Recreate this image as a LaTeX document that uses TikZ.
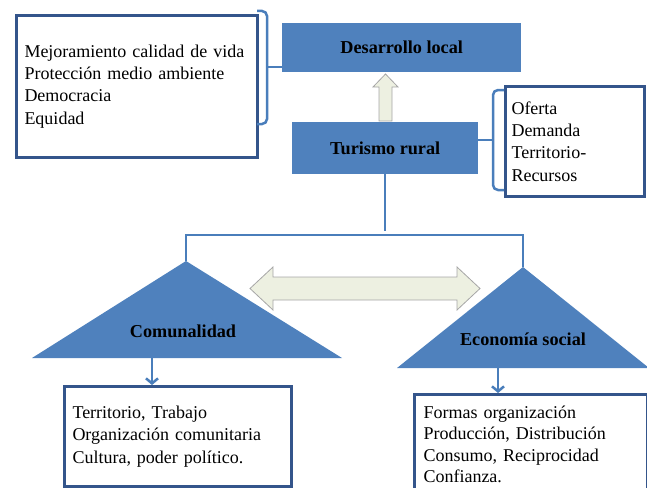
\documentclass[tikz,border=0pt]{standalone}
\usepackage{fontspec}
\setmainfont{Liberation Serif}
\usetikzlibrary{arrows.meta}

\definecolor{boxblue}{HTML}{4F81BD}
\definecolor{boxedge}{HTML}{34558B}
\definecolor{linkblue}{HTML}{4A7EBB}
\definecolor{arrowfill}{HTML}{EDF0E1}
\definecolor{arrowedge}{HTML}{A6A6A6}

\begin{document}
\begin{tikzpicture}[x=1pt, y=-1pt,
  every node/.style = {font=\fontsize{18}{22.3}\selectfont},
  lista/.style = {draw=boxedge, line width=3pt, fill=white, align=left,
    anchor=north west, inner ysep=0pt},
  bloque/.style = {fill=boxblue, anchor=north west,
    font=\fontsize{18.2}{22}\selectfont\bfseries},
  titulo/.style = {font=\fontsize{18.2}{22}\selectfont\bfseries},
  enlace/.style = {draw=linkblue, line width=2.5pt},
  hueco/.style = {fill=arrowfill, draw=arrowedge, line width=0.8pt}]

\useasboundingbox (0,0) rectangle (647,487);
\clip (0,0) rectangle (647,487);

% cajas de arriba
\node[bloque, minimum width=239, minimum height=49] (desarrollo) at (282,23) {Desarrollo local};
\node[bloque, minimum width=186, minimum height=52] (turismo) at (292,122) {Turismo rural};
\node[lista, minimum width=241, minimum height=142, text width=225, inner xsep=8] (metas) at (15,14)
  {Mejoramiento calidad de vida\\ Protección medio ambiente\\ Democracia\\ Equidad};
\node[lista, minimum width=139, minimum height=110, text width=127, inner xsep=6] (oferta) at (504,85)
  {Oferta\\ Demanda\\ Territorio-\\ Recursos};

% triangulos
\coordinate (comA) at (186,261);
\coordinate (ecoA) at (523,267);
\fill[boxblue] (comA) -- (342,358) -- (32,358) -- cycle;
\fill[boxblue] (ecoA) -- (649,368) -- (397,368) -- cycle;
\node[titulo] (comunalidad) at (183,331) {Comunalidad};
\node[titulo] (economia) at (523,339) {Economía social};

% cajas de abajo
\node[lista, minimum width=227, minimum height=100, text width=211, inner xsep=8] (territorio) at (63,385)
  {Territorio, Trabajo\\ Organización comunitaria\\ Cultura, poder político.};
\node[lista, minimum width=232, minimum height=100, text width=215, inner xsep=9, inner ysep=9,
  font=\fontsize{18}{21.5}\selectfont] (formas) at (413,393)
  {Formas organización\\ Producción, Distribución\\ Consumo, Reciprocidad\\ Confianza.};

% enlaces
\coordinate (bus) at (386,235);
\draw[enlace] (turismo.south) -- ++(0,57);
\draw[enlace] (comA) |- (bus) -| (ecoA);

\coordinate (llaveI) at (267,67);
\draw[enlace, rounded corners=5] (257,11) -| (llaveI) |- (257,124);
\draw[enlace] (llaveI) -- (llaveI -| desarrollo.west);
\coordinate (llaveD) at (493,140);
\draw[enlace, rounded corners=5] (504,90) -| (llaveD) |- (504,190);
\draw[enlace] (llaveD) -- (llaveD -| turismo.east);

\coordinate (comPie) at (152,358);
\coordinate (ecoPie) at (498,368);
\draw[enlace, -{Straight Barb[length=5pt, width=12pt]}] (comPie) -- (comPie |- territorio.north);
\draw[enlace, -{Straight Barb[length=5pt, width=12pt]}] (ecoPie) -- (ecoPie |- formas.north);

% flechas huecas
\filldraw[hueco] (385.5,74) -- (398,87) -- (392,87) -- (392,121) -- (379,121)
  -- (379,87) -- (373,87) -- cycle;
\filldraw[hueco] (250,288.5) -- (273,267) -- (273,277) -- (457,277) -- (457,267)
  -- (480,288.5) -- (457,310) -- (457,300) -- (273,300) -- (273,310) -- cycle;
\end{tikzpicture}
\end{document}
